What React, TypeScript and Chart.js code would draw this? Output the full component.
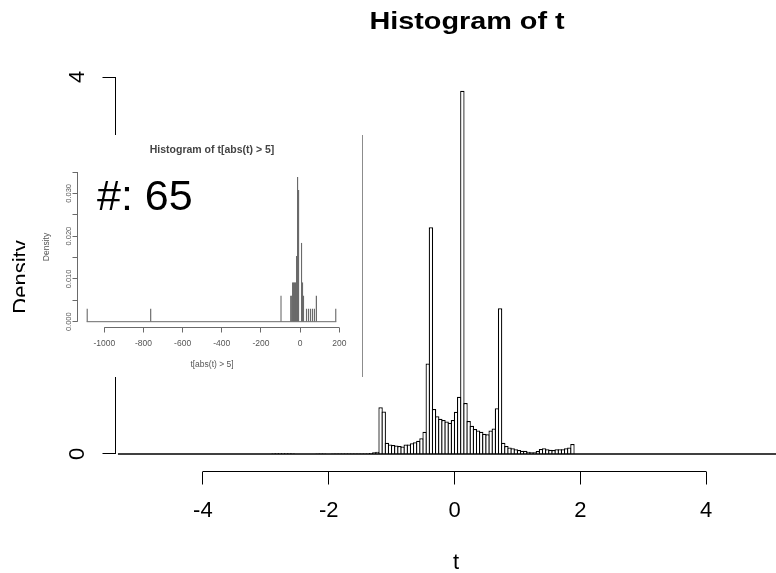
import React, { useEffect, useRef } from "react";
import { Chart, registerables } from "chart.js";
Chart.register(...registerables);

const FONT = '"Liberation Sans", Arial, Helvetica, sans-serif';

// ---------- main histogram of t ----------
const mainTitle = "Histogram of t";
const mainXLabel = "t";
const mainYLabel = "Density";
const mainBinWidth = 0.05;
const mainBreaksRange = [-5.35, 5.35];
const mainFirstBin = -2.9; // left edge of the first listed bin
const mainDensity = [
  // -2.90 .. -2.60
  0.008, 0.008, 0.008, 0.008, 0.008, 0.008, 0.008,
  // -2.55 .. -2.25
  0, 0, 0, 0, 0, 0, 0,
  // -2.20 .. -2.10
  0.006, 0.006, 0.006,
  // -2.05, -2.00
  0, 0,
  // -1.95 .. -1.40
  0.004, 0.004, 0.004, 0.004, 0.004, 0.004, 0.004, 0.004, 0.004, 0.004, 0.004, 0.004,
  // -1.35 .. -1.15
  0.01, 0.018, 0.025, 0.495, 0.452,
  // -1.10 .. -0.45
  0.12, 0.1, 0.095, 0.09, 0.085, 0.08, 0.1, 0.1, 0.113, 0.124, 0.14, 0.166, 0.237, 0.96,
  // -0.40
  2.405,
  // -0.35 .. 0.05
  0.477, 0.4, 0.375, 0.36, 0.345, 0.332, 0.36, 0.449, 0.608,
  // 0.10
  3.855,
  // 0.15 .. 0.65
  0.54, 0.35, 0.3, 0.265, 0.25, 0.235, 0.215, 0.21, 0.25, 0.27, 0.485,
  // 0.70
  1.546,
  // 0.75 .. 1.85
  0.12, 0.085, 0.07, 0.06, 0.05, 0.042, 0.035, 0.035, 0.025, 0.018, 0.018, 0.032,
  0.053, 0.06, 0.05, 0.046, 0.042, 0.05, 0.05, 0.05, 0.06, 0.07, 0.106,
];
const mainXTicks = [-4, -2, 0, 2, 4];
const mainYTicks = [0, 1, 2, 3, 4];

// ---------- inset: histogram of t[abs(t) > 5] ----------
const insetTitle = "Histogram of t[abs(t) > 5]";
const insetXLabel = "t[abs(t) > 5]";
const insetYLabel = "Density";
const insetNote = "#: 65";
const insetTotal = 65;
const insetBinWidth = 5;
const insetBreaksRange = [-1090, 185];
const insetBinStarts = [-1090, -765, -100, -50, -45, -40, -35, -30, -25, -20, -15, -10, 5, 10, 15, 30, 40, 50, 60, 70, 80, 180];
const insetBinCounts = [1, 1, 2, 2, 2, 3, 3, 3, 3, 5, 11, 10, 6, 3, 2, 1, 1, 1, 1, 1, 2, 1];
const insetXTicks = [-1000, -800, -600, -400, -200, 0, 200];
const insetYTicks = [0, 0.005, 0.01, 0.015, 0.02, 0.025, 0.03, 0.035];
const insetYTickLabels = ["0.000", "", "0.010", "", "0.020", "", "0.030", ""];

const crisp = (v: number) => Math.round(v - 0.5) + 0.5;

const mainAxesPlugin = {
  id: "mainAxes",
  afterDraw(chart: any) {
    const { ctx, chartArea } = chart;
    const xs = chart.scales.x;
    const ys = chart.scales.y;
    ctx.save();
    ctx.strokeStyle = "#000";
    ctx.fillStyle = "#000";
    ctx.lineWidth = 1;

    // x axis (R style, offset below the plot)
    const ay = crisp(chartArea.bottom);
    ctx.beginPath();
    ctx.moveTo(xs.getPixelForValue(mainXTicks[0]), ay);
    ctx.lineTo(xs.getPixelForValue(mainXTicks[mainXTicks.length - 1]), ay);
    mainXTicks.forEach((v) => {
      const px = crisp(xs.getPixelForValue(v));
      ctx.moveTo(px, ay);
      ctx.lineTo(px, ay + 13);
    });
    ctx.stroke();
    ctx.font = `22px ${FONT}`;
    ctx.textAlign = "center";
    ctx.textBaseline = "middle";
    mainXTicks.forEach((v) => ctx.fillText(String(v), xs.getPixelForValue(v), ay + 39));
    ctx.fillText(mainXLabel, 456, 563);

    // y axis
    const ax = crisp(chartArea.left);
    ctx.beginPath();
    ctx.moveTo(ax, ys.getPixelForValue(mainYTicks[0]));
    ctx.lineTo(ax, ys.getPixelForValue(mainYTicks[mainYTicks.length - 1]));
    mainYTicks.forEach((v) => {
      const py = crisp(ys.getPixelForValue(v));
      ctx.moveTo(ax, py);
      ctx.lineTo(ax - 13, py);
    });
    ctx.stroke();
    mainYTicks.forEach((v) => {
      ctx.save();
      ctx.translate(ax - 38, ys.getPixelForValue(v));
      ctx.rotate(-Math.PI / 2);
      ctx.fillText(String(v), 0, 0);
      ctx.restore();
    });

    // y label
    ctx.save();
    ctx.translate(28, 277);
    ctx.rotate(-Math.PI / 2);
    ctx.textBaseline = "alphabetic";
    ctx.fillText(mainYLabel, 0, 0);
    ctx.restore();

    // title
    ctx.save();
    ctx.translate(467, 22);
    ctx.scale(1.2, 1);
    ctx.font = `bold 24px ${FONT}`;
    ctx.fillText(mainTitle, 0, 0);
    ctx.restore();
    ctx.restore();
  },
};

const insetAxesPlugin = {
  id: "insetAxes",
  afterDraw(chart: any) {
    const { ctx, chartArea } = chart;
    const xs = chart.scales.x;
    const ys = chart.scales.y;
    ctx.save();
    ctx.strokeStyle = "#6a6a6a";
    ctx.fillStyle = "#555";
    ctx.lineWidth = 1;

    const ay = crisp(chartArea.bottom);
    ctx.beginPath();
    ctx.moveTo(xs.getPixelForValue(insetXTicks[0]), ay);
    ctx.lineTo(xs.getPixelForValue(insetXTicks[insetXTicks.length - 1]), ay);
    insetXTicks.forEach((v) => {
      const px = crisp(xs.getPixelForValue(v));
      ctx.moveTo(px, ay);
      ctx.lineTo(px, ay + 5);
    });
    ctx.stroke();
    ctx.font = `8.5px ${FONT}`;
    ctx.textAlign = "center";
    ctx.textBaseline = "middle";
    insetXTicks.forEach((v) => ctx.fillText(String(v), xs.getPixelForValue(v), ay + 16));

    const ax = crisp(chartArea.left);
    ctx.beginPath();
    ctx.moveTo(ax, ys.getPixelForValue(insetYTicks[0]));
    ctx.lineTo(ax, ys.getPixelForValue(insetYTicks[insetYTicks.length - 1]));
    insetYTicks.forEach((v) => {
      const py = crisp(ys.getPixelForValue(v));
      ctx.moveTo(ax, py);
      ctx.lineTo(ax - 5, py);
    });
    ctx.stroke();
    ctx.font = `7.5px ${FONT}`;
    insetYTicks.forEach((v, i) => {
      if (!insetYTickLabels[i]) return;
      ctx.save();
      ctx.translate(ax - 9, ys.getPixelForValue(v));
      ctx.rotate(-Math.PI / 2);
      ctx.fillText(insetYTickLabels[i], 0, 0);
      ctx.restore();
    });

    ctx.font = `8.5px ${FONT}`;
    ctx.fillText(insetXLabel, 187, 230);
    ctx.save();
    ctx.translate(22, 112);
    ctx.rotate(-Math.PI / 2);
    ctx.fillText(insetYLabel, 0, 0);
    ctx.restore();

    ctx.fillStyle = "#444";
    ctx.font = `bold 10.5px ${FONT}`;
    ctx.fillText(insetTitle, 187, 15);

    ctx.fillStyle = "#000";
    ctx.font = `43px ${FONT}`;
    ctx.textAlign = "left";
    ctx.textBaseline = "alphabetic";
    ctx.fillText(insetNote, 72, 75);
    ctx.restore();
  },
};

export default function App() {
  const mainRef = useRef<HTMLCanvasElement>(null);
  const insetRef = useRef<HTMLCanvasElement>(null);

  useEffect(() => {
    const mainData = mainDensity.map((d, i) => ({
      x: mainFirstBin + (i + 0.5) * mainBinWidth,
      y: d,
    }));
    const main = new Chart(mainRef.current as HTMLCanvasElement, {
      type: "bar",
      data: {
        datasets: [
          {
            type: "line",
            data: [
              { x: mainBreaksRange[0], y: 0 },
              { x: mainBreaksRange[1], y: 0 },
            ],
            borderColor: "#000",
            borderWidth: 1.6,
            pointRadius: 0,
            order: 0,
          } as any,
          {
            type: "bar",
            data: mainData,
            backgroundColor: "#fff",
            borderColor: "#000",
            borderWidth: 1.25,
            borderSkipped: "start",
            categoryPercentage: 1,
            barPercentage: 1.4,
            order: 1,
          } as any,
        ],
      },
      options: {
        animation: false,
        responsive: false,
        devicePixelRatio: 1,
        layout: { padding: { left: 115, right: 0, top: 60, bottom: 102 } },
        plugins: { legend: { display: false }, tooltip: { enabled: false }, title: { display: false } },
        scales: {
          x: { type: "linear", offset: false, min: -5.397, max: 5.111, display: false },
          y: { type: "linear", min: -0.1804, max: 4.1804, display: false },
        },
      },
      plugins: [mainAxesPlugin],
    });

    const insetData = insetBinStarts.map((s, i) => ({
      x: s + insetBinWidth / 2,
      y: insetBinCounts[i] / (insetTotal * insetBinWidth),
    }));
    const inset = new Chart(insetRef.current as HTMLCanvasElement, {
      type: "bar",
      data: {
        datasets: [
          {
            type: "line",
            data: [
              { x: insetBreaksRange[0], y: 0 },
              { x: insetBreaksRange[1], y: 0 },
            ],
            borderColor: "#6a6a6a",
            borderWidth: 1,
            pointRadius: 0,
            order: 0,
          } as any,
          {
            type: "bar",
            data: insetData,
            backgroundColor: "#9a9a9a",
            borderColor: "#6a6a6a",
            borderWidth: 1,
            borderSkipped: "start",
            categoryPercentage: 1,
            barPercentage: 1.5,
            order: 1,
          } as any,
        ],
      },
      options: {
        animation: false,
        responsive: false,
        devicePixelRatio: 1,
        layout: { padding: { left: 52, right: 16, top: 30, bottom: 50 } },
        plugins: { legend: { display: false }, tooltip: { enabled: false }, title: { display: false } },
        scales: {
          x: { type: "linear", offset: false, min: -1139.3, max: 234.4, display: false },
          y: { type: "linear", min: -0.00124, max: 0.03664, display: false },
        },
      },
      plugins: [insetAxesPlugin],
    });

    return () => {
      main.destroy();
      inset.destroy();
    };
  }, []);

  return (
    <div style={{ position: "absolute", left: 0, top: 0, width: 776, height: 573, background: "#fff" }}>
      <canvas ref={mainRef} width={776} height={573} style={{ position: "absolute", left: 0, top: 0, width: 776, height: 573 }} />
      <div
        style={{
          position: "absolute",
          left: 25,
          top: 135,
          width: 337,
          height: 242,
          background: "#fff",
          borderRight: "1px solid #8c8c8c",
        }}
      >
        <canvas ref={insetRef} width={337} height={242} style={{ position: "absolute", left: 0, top: 0, width: 337, height: 242 }} />
      </div>
    </div>
  );
}
